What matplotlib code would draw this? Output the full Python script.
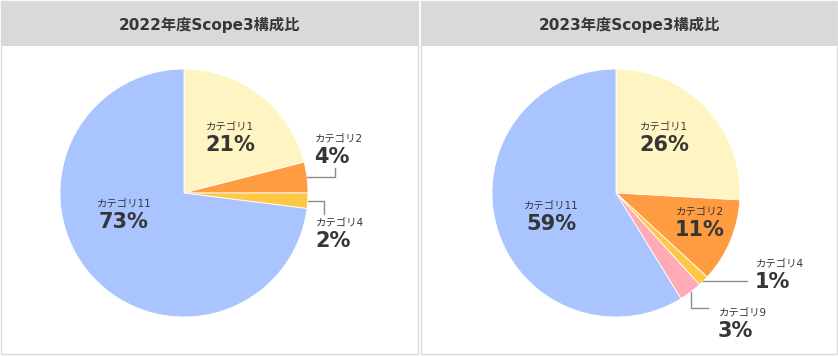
import numpy as np
import matplotlib
matplotlib.use('Agg')
import matplotlib.pyplot as plt
from matplotlib.patches import Rectangle

plt.rcParams['font.family'] = ['DejaVu Sans', 'Noto Sans CJK JP']

W, H = 838, 356

# data
titles = ['2022年度Scope3構成比', '2023年度Scope3構成比']
cats_2022 = ['カテゴリ1', 'カテゴリ2', 'カテゴリ4', 'カテゴリ11']
vals_2022 = [21, 4, 2, 73]
cats_2023 = ['カテゴリ1', 'カテゴリ2', 'カテゴリ4', 'カテゴリ9', 'カテゴリ11']
vals_2023 = [26, 11, 1.4, 3, 59]

cat_colors = {'カテゴリ1': '#fff5c2', 'カテゴリ2': '#ff9b40', 'カテゴリ4': '#ffc844',
              'カテゴリ9': '#ffaab5', 'カテゴリ11': '#a9c4ff'}

# layout (pixel coords, y from top)
panels = [(1, 418), (421, 837)]
centers = [(184, 193), (616, 193)]
R = 124
# label position per category: (x, y of category text, ha, leader path after start)
label_pos_2022 = {'カテゴリ1': (230, 127, 'center', None),
                  'カテゴリ2': (315, 139, 'left', [(335, None), (335, 168)]),
                  'カテゴリ4': (316, 223, 'left', [(324, None), (324, 214)]),
                  'カテゴリ11': (124, 204, 'center', None)}
label_pos_2023 = {'カテゴリ1': (664, 127, 'center', None),
                  'カテゴリ2': (700, 212, 'center', None),
                  'カテゴリ4': (756, 264, 'left', [(747, None)]),
                  'カテゴリ9': (719, 313, 'left', [(None, 308), (708, 308)]),
                  'カテゴリ11': (551, 206, 'center', None)}

fig = plt.figure(figsize=(W / 100, H / 100), dpi=100)
ax = fig.add_axes([0, 0, 1, 1])

txt = '#363636'
for (x0, x1), title in zip(panels, titles):
    ax.add_patch(Rectangle((x0, H - 354), x1 - x0, 353, facecolor='white',
                           edgecolor='#dcdcdc', lw=1, zorder=0))
    ax.add_patch(Rectangle((x0, H - 46), x1 - x0, 44, facecolor='#d9d9d9',
                           edgecolor='none', zorder=1))
    ax.text((x0 + x1) / 2, H - 25, title, ha='center', va='center',
            fontsize=11, fontweight='bold', color=txt)

for (cx, cy), cats, vals, lpos in zip(centers, [cats_2022, cats_2023],
                                      [vals_2022, vals_2023],
                                      [label_pos_2022, label_pos_2023]):
    ax.pie(vals, colors=[cat_colors[c] for c in cats], startangle=90,
           counterclock=False, center=(cx, H - cy), radius=R,
           wedgeprops=dict(edgecolor='white', linewidth=0.6))
    total = sum(vals)
    cum = 0
    for c, v in zip(cats, vals):
        mid = np.deg2rad(90 - (cum + v / 2) / total * 360)
        cum += v
        lx, ly, ha, path = lpos[c]
        ax.text(lx, H - ly, c, ha=ha, va='center', fontsize=7.5, color=txt)
        ax.text(lx - (1 if ha == 'left' else 0), H - ly - 18, f'{v:.0f}%', ha=ha,
                va='center', fontsize=15, fontweight='bold', color=txt)
        if path:
            sx = cx + R * np.cos(mid)
            sy = cy - R * np.sin(mid)
            xs, ys = [sx], [sy]
            px, py = sx, sy
            for qx, qy in path:
                px = px if qx is None else qx
                py = py if qy is None else qy
                xs.append(px)
                ys.append(py)
            ax.plot(xs, [H - y for y in ys], color='#8c8c8c', lw=1, zorder=5)

ax.set_xlim(0, W)
ax.set_ylim(0, H)
ax.set_aspect('auto')
ax.axis('off')
fig.savefig('out.png', dpi=100, facecolor='white')
